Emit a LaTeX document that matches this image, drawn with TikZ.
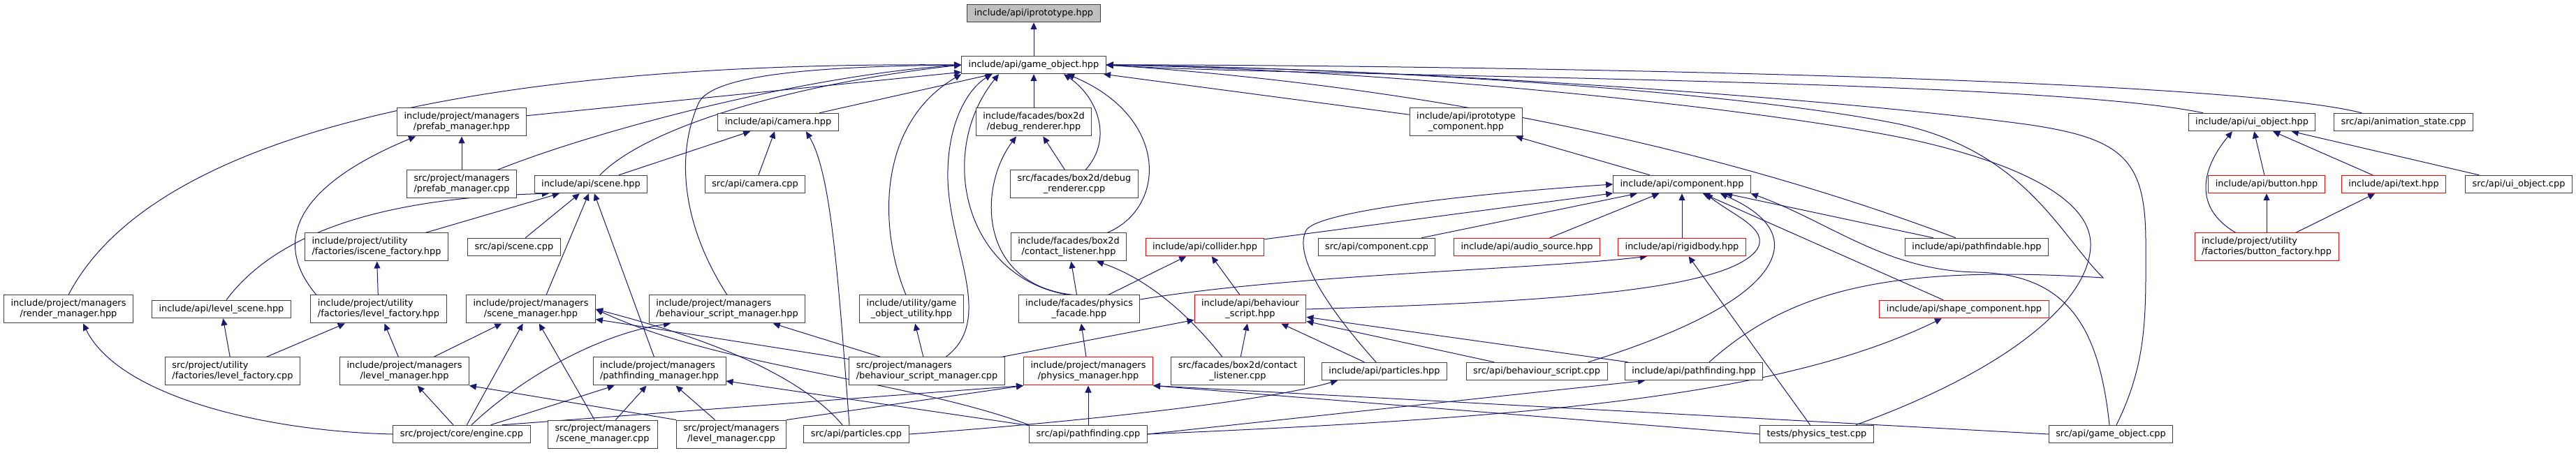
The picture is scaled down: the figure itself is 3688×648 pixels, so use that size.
\documentclass[tikz,border=0pt]{standalone}
\usepackage{fontspec}
\setmainfont{DejaVu Sans}
\usetikzlibrary{arrows.meta,backgrounds}
\definecolor{edgeblue}{HTML}{191970}
\definecolor{boxline}{HTML}{404040}
\definecolor{rootfill}{HTML}{BFBFBF}
\definecolor{cutred}{HTML}{FF0000}
\tikzset{
  hdr/.style={draw=boxline,fill=white,line width=1pt,inner xsep=10pt,inner ysep=1pt,minimum height=25.5pt,font=\fontsize{12.9}{15}\selectfont,align=center},
  two/.style={minimum height=40pt},
  lft/.style={align=left},
  trunc/.style={hdr,draw=cutred},
  mainhdr/.style={hdr,fill=rootfill},
  dep/.style={-{Triangle[length=10pt,width=9pt]},draw=edgeblue,line width=1pt}
}

\begin{document}
\begin{tikzpicture}[x=1pt,y=1pt]
\useasboundingbox (0,0) rectangle (3688,648);
\node[mainhdr] (iproto) at (1480,629) {include/api/iprototype.hpp};
\node[hdr] (gobj) at (1480,555) {include/api/game\_object.hpp};

\node[hdr,two] (prefabh) at (661,473) {include/project/managers\\/prefab\_manager.hpp};
\node[hdr] (camh) at (1114,473) {include/api/camera.hpp};
\node[hdr,two] (dbgh) at (1480,473) {include/facades/box2d\\/debug\_renderer.hpp};
\node[hdr,two] (iprotocomp) at (2099,473) {include/api/iprototype\\\_component.hpp};
\node[hdr] (uiobjh) at (3224,473) {include/api/ui\_object.hpp};
\node[hdr] (animcpp) at (3441,473) {src/api/animation\_state.cpp};

\node[hdr,two] (prefabcpp) at (661,384) {src/project/managers\\/prefab\_manager.cpp};
\node[hdr] (sceneh) at (846,384) {include/api/scene.hpp};
\node[hdr] (camcpp) at (1081,384) {src/api/camera.cpp};
\node[hdr,two] (dbgcpp) at (1538,384) {src/facades/box2d/debug\\\_renderer.cpp};
\node[hdr] (comph) at (2408,384) {include/api/component.hpp};
\node[trunc] (buttonh) at (3245,384) {include/api/button.hpp};
\node[trunc] (texth) at (3427,384) {include/api/text.hpp};
\node[hdr] (uiobjcpp) at (3606,384) {src/api/ui\_object.cpp};

\node[hdr,two,lft] (isceneh) at (539,294) {include/project/utility\\/factories/iscene\_factory.hpp};
\node[hdr] (scenecpp) at (736,294) {src/api/scene.cpp};
\node[hdr,two] (contacth) at (1530,294) {include/facades/box2d\\/contact\_listener.hpp};
\node[trunc] (colliderh) at (1725,294) {include/api/collider.hpp};
\node[hdr] (compcpp) at (1971,294) {src/api/component.cpp};
\node[trunc] (audioh) at (2186,294) {include/api/audio\_source.hpp};
\node[trunc] (rigidh) at (2408,294) {include/api/rigidbody.hpp};
\node[hdr] (pfindableh) at (2830,294) {include/api/pathfindable.hpp};
\node[trunc,two,lft] (bfactoryh) at (3245,294) {include/project/utility\\/factories/button\_factory.hpp};

\node[hdr,two] (renderh) at (98,205) {include/project/managers\\/render\_manager.hpp};
\node[hdr] (lvlsceneh) at (317,205) {include/api/level\_scene.hpp};
\node[hdr,two,lft] (lvlfacth) at (542,205) {include/project/utility\\/factories/level\_factory.hpp};
\node[hdr,two] (scenemgrh) at (760,205) {include/project/managers\\/scene\_manager.hpp};
\node[hdr,two,lft] (bsmgrh) at (1041,205) {include/project/managers\\/behaviour\_script\_manager.hpp};
\node[hdr,two] (goutilh) at (1305,205) {include/utility/game\\\_object\_utility.hpp};
\node[hdr,two] (physfach) at (1545,205) {include/facades/physics\\\_facade.hpp};
\node[trunc,two] (bscripth) at (1790,205) {include/api/behaviour\\\_script.hpp};
\node[trunc] (shapeh) at (2812,205) {include/api/shape\_component.hpp};

\node[hdr,two,lft] (lvlfactcpp) at (333,116) {src/project/utility\\/factories/level\_factory.cpp};
\node[hdr,two] (lvlmgrh) at (579,116) {include/project/managers\\/level\_manager.hpp};
\node[hdr,two,lft] (pfmgrh) at (944,116) {include/project/managers\\/pathfinding\_manager.hpp};
\node[hdr,two,lft] (bsmgrcpp) at (1327,116) {src/project/managers\\/behaviour\_script\_manager.cpp};
\node[trunc,two] (physmgrh) at (1558,116) {include/project/managers\\/physics\_manager.hpp};
\node[hdr,two] (contactcpp) at (1772,116) {src/facades/box2d/contact\\\_listener.cpp};
\node[hdr] (particlesh) at (1982,116) {include/api/particles.hpp};
\node[hdr] (bscriptcpp) at (2200,116) {src/api/behaviour\_script.cpp};
\node[hdr] (pathfindh) at (2425,116) {include/api/pathfinding.hpp};

\node[hdr] (enginecpp) at (661,26) {src/project/core/engine.cpp};
\node[hdr,two] (scenemgrcpp) at (863,26) {src/project/managers\\/scene\_manager.cpp};
\node[hdr,two] (lvlmgrcpp) at (1047,26) {src/project/managers\\/level\_manager.cpp};
\node[hdr] (particlescpp) at (1226,26) {src/api/particles.cpp};
\node[hdr] (pathfindcpp) at (1558,26) {src/api/pathfinding.cpp};
\node[hdr] (phystestcpp) at (2601,26) {tests/physics\_test.cpp};
\node[hdr] (gobjcpp) at (3022,26) {src/api/game\_object.cpp};

\begin{scope}[on background layer]
\foreach \a/\b in {gobj/iproto,prefabh/gobj,camh/gobj,dbgh/gobj,iprotocomp/gobj,prefabcpp/prefabh,camcpp/camh,sceneh/camh,dbgcpp/dbgh,comph/iprotocomp,
  buttonh/uiobjh,texth/uiobjh,uiobjcpp/uiobjh,bfactoryh/buttonh,bfactoryh/texth,isceneh/sceneh,scenecpp/sceneh,pfmgrh/sceneh,lvlfacth/isceneh,
  colliderh/comph,compcpp/comph,audioh/comph,rigidh/comph,pfindableh/comph,shapeh/comph,physfach/contacth,physfach/colliderh,bscripth/colliderh,
  lvlfactcpp/lvlsceneh,lvlfactcpp/lvlfacth,lvlmgrh/lvlfacth,lvlmgrh/scenemgrh,bsmgrcpp/scenemgrh,bsmgrcpp/bsmgrh,bsmgrcpp/goutilh,bsmgrcpp/bscripth,
  physmgrh/physfach,contactcpp/bscripth,particlesh/bscripth,bscriptcpp/bscripth,pathfindh/bscripth,enginecpp/lvlmgrh,enginecpp/scenemgrh,enginecpp/pfmgrh,
  scenemgrcpp/scenemgrh,scenemgrcpp/pfmgrh,lvlmgrcpp/pfmgrh,pathfindcpp/pfmgrh,pathfindcpp/physmgrh,phystestcpp/rigidh}
  \draw[dep] (\a) -- (\b);
% into game_object.hpp
\draw[dep] (renderh.north) .. controls (220,460) and (700,560) .. (gobj.west);
\draw[dep] (prefabcpp) .. controls (850,460) and (1150,540) .. (gobj.west);
\draw[dep] (sceneh) .. controls (930,470) and (1150,530) .. (gobj.west);
\draw[dep] (bsmgrh.north) .. controls (980,320) and (965,420) .. (1000,500) .. controls (1020,545) and (1200,553) .. (gobj.west);
\draw[dep] ([xshift=-8pt]goutilh.north) .. controls (1258,320) and (1255,470) .. (gobj.south west);
\draw[dep] ([xshift=27pt]bsmgrcpp.north) .. controls (1425,190) and (1360,290) .. (1357,390) .. controls (1355,470) and (1385,520) .. ([xshift=-60pt]gobj.south);
\draw[dep] ([xshift=-15pt]physfach.north) .. controls (1380,250) and (1340,430) .. ([xshift=-50pt]gobj.south);
\draw[dep] ([xshift=-8pt]physfach.north) .. controls (1400,240) and (1400,380) .. ([xshift=-25pt]dbgh.south);
\draw[dep] ([xshift=16pt]dbgcpp.north) .. controls (1595,450) and (1570,510) .. ([xshift=43pt]gobj.south);
\draw[dep] ([xshift=55pt]contacth.north) .. controls (1670,350) and (1675,480) .. ([xshift=48pt]gobj.south);
\draw[dep] ([xshift=-30pt]pfindableh.north) .. controls (2500,420) and (2100,520) .. (gobj.east);
\draw[dep] ([xshift=-70pt]uiobjh.north) .. controls (2913,537) and (1829,538) .. (gobj.east);
\draw[dep] ([xshift=-60pt]animcpp.north) .. controls (3150,545) and (1800,556) .. (gobj.east);
\draw[dep] ([xshift=22pt]pathfindh.north) .. controls (2560,230) and (2700,270) .. (3011,250) .. controls (2950,310) and (2900,430) .. (2720,470) .. controls (2500,515) and (2000,550) .. (gobj.east);
\draw[dep] ([xshift=56pt]phystestcpp.north) .. controls (2880,120) and (2995,220) .. (2993,300) .. controls (2991,360) and (2900,410) .. (2750,445) .. controls (2550,490) and (2000,548) .. (gobj.east);
\draw[dep] ([xshift=8pt]gobjcpp.north) .. controls (3075,130) and (3072,200) .. (3072,300) .. controls (3072,420) and (3040,450) .. (2900,470) .. controls (2600,510) and (2000,550) .. (gobj.east);
% scene, prefab, camera
\draw[dep] ([xshift=7pt]lvlsceneh.north) .. controls (400,320) and (560,365) .. ([xshift=-60pt]sceneh.south);
\draw[dep] ([xshift=-89pt]lvlfacth.north) .. controls (390,300) and (420,380) .. ([xshift=-66pt]prefabh.south);
\draw[dep] ([xshift=-10pt]particlescpp.north) .. controls (1200,250) and (1190,400) .. ([xshift=40pt]camh.south);
\draw[dep] ([xshift=22pt]scenemgrh.north) -- ([xshift=-3pt]sceneh.south);
% bottom row
\draw[dep] (enginecpp.west) .. controls (380,30) and (170,80) .. ([xshift=21pt]renderh.south);
\draw[dep] ([xshift=14pt]enginecpp.north) .. controls (750,110) and (860,170) .. ([xshift=-81pt]bsmgrh.south);
\draw[dep] ([xshift=58pt]enginecpp.north) -- (physmgrh.south west);
\draw[dep] (lvlmgrcpp.north west) -- (lvlmgrh.south east);
\draw[dep] (lvlmgrcpp.north east) -- (physmgrh.south west);
\draw[dep] ([xshift=-20pt]particlescpp.north) .. controls (1133,126) and (963,176) .. (scenemgrh.east);
\draw[dep] (particlescpp.east) .. controls (1500,40) and (1800,70) .. ([xshift=-67pt]particlesh.south);
\draw[dep] (pathfindcpp.north west) .. controls (1294,105) and (1033,121) .. (scenemgrh.east);
\draw[dep] (pathfindcpp.east) -- ([xshift=-70pt]pathfindh.south);
\draw[dep] (pathfindcpp.east) .. controls (2200,50) and (2550,80) .. ([xshift=-32pt]shapeh.south);
\draw[dep] (phystestcpp.west) -- (physmgrh.south east);
\draw[dep] (gobjcpp.west) -- (physmgrh.south east);
% component and physics
\draw[dep] ([xshift=-12pt]particlesh.north) .. controls (1880,230) and (1855,290) .. (1870,318) .. controls (1885,345) and (2100,370) .. (comph.west);
\draw[dep] (bscripth.east) .. controls (2200,215) and (2470,230) .. (2515,290) .. controls (2535,320) and (2480,340) .. ([xshift=34pt]comph.south);
\draw[dep] ([xshift=74pt]bscriptcpp.north) .. controls (2420,175) and (2530,230) .. (2540,290) .. controls (2545,325) and (2510,350) .. ([xshift=55pt]comph.south);
\draw[dep] ([xshift=-2pt]gobjcpp.north) .. controls (3005,180) and (2960,255) .. (2830,258) .. controls (2700,260) and (2620,330) .. (comph.south east);
\draw[dep] ([yshift=14pt]physfach.east) .. controls (1850,255) and (2200,262) .. ([xshift=-50pt]rigidh.south);
\draw[dep] ([xshift=-22pt]contactcpp.north) .. controls (1700,200) and (1640,250) .. ([xshift=40pt]contacth.south);
\draw[dep] ([xshift=-44pt]bfactoryh.north) .. controls (3140,350) and (3151,406) .. ([xshift=-28pt]uiobjh.south);
\end{scope}
\end{tikzpicture}
\end{document}
